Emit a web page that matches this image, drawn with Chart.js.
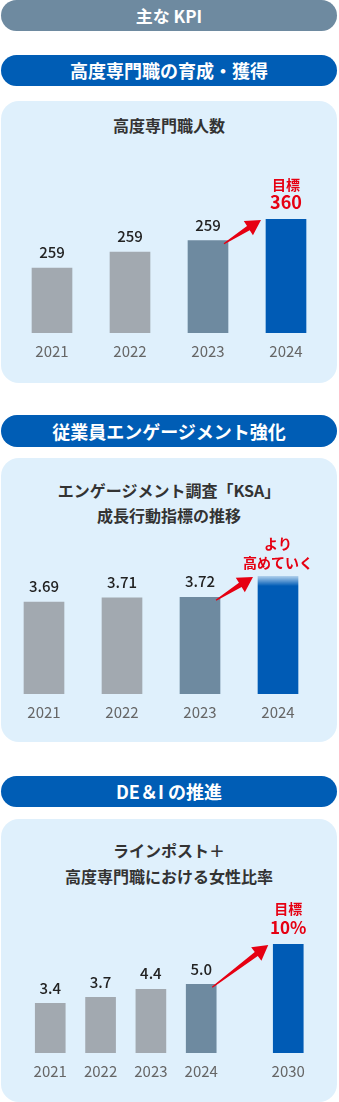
<!DOCTYPE html>
<html lang="ja">
<head>
<meta charset="utf-8">
<title>主なKPI</title>
<script src="https://cdn.jsdelivr.net/npm/chart.js@4.4.1/dist/chart.umd.min.js"></script>
<style>
body { margin: 0; background: #fff; font-family: "Noto Sans CJK JP", "Noto Sans", sans-serif; }
#page { position: relative; width: 339px; height: 1102px; overflow: hidden; }
.pill { position: absolute; left: 1px; width: 336px; border-radius: 16px; color: #fff; font-weight: 700; font-size: 18px; text-align: center; }
.pill.grey { background: #6e8aa0; font-size: 17px; }
.pill.blue { background: #005db5; }
.panel { position: absolute; left: 1px; width: 336px; background: #dff0fc; border-radius: 18px; }
.panel h3 { position: absolute; left: 0; width: 100%; margin: 0; text-align: center; font-size: 16px; font-weight: 700; color: #333; }
.panel canvas { position: absolute; left: 0; }
</style>
</head>
<body>
<div id="page">
  <div class="pill grey" style="top:0;height:31px;line-height:31px;">主な KPI</div>

  <div class="pill blue" style="top:55px;height:31px;line-height:31px;">高度専門職の育成・獲得</div>
  <div class="panel" style="top:101px;height:282px;">
    <h3 style="top:12px;line-height:25px;">高度専門職人数</h3>
    <canvas id="chart_experts" width="336" height="233" style="top:49px;"></canvas>
  </div>

  <div class="pill blue" style="top:415px;height:32px;line-height:32px;">従業員エンゲージメント強化</div>
  <div class="panel" style="top:458px;height:284px;">
    <h3 style="top:20px;line-height:25px;">エンゲージメント調査「KSA」<br>成長行動指標の推移</h3>
    <canvas id="chart_ksa" width="336" height="212" style="top:72px;"></canvas>
  </div>

  <div class="pill blue" style="top:776px;height:31px;line-height:31px;">DE＆I の推進</div>
  <div class="panel" style="top:819px;height:283px;">
    <h3 style="top:18px;line-height:26px;">ラインポスト＋<br>高度専門職における女性比率</h3>
    <canvas id="chart_dei" width="336" height="212" style="top:71px;"></canvas>
  </div>
</div>

<script>
// 高度専門職人数 (bars are drawn as steps, the tallest = 100)
var expertYears = ['2021', '2022', '2023', '2024'];
var expertValues = ['259', '259', '259'];
var expertBars = [57, 71, 81, 100];
var expertNote = ['目標', '360'];

// KSA 成長行動指標
var ksaYears = ['2021', '2022', '2023', '2024'];
var ksaValues = ['3.69', '3.71', '3.72'];
var ksaBars = [78, 81.5, 82, 100];
var ksaNote = ['より', '高めていく'];

// 女性比率 (%); 2030 stands apart after a gap
var deiYears = ['2021', '2022', '2023', '2024', '2030'];
var deiSlots = [0, 1, 2, 3, 4.73];
var deiValues = ['3.4', '3.7', '4.4', '5.0'];
var deiBars = [45.5, 51, 58.5, 63, 100];
var deiNote = ['目標', '10%'];

var GREY = '#a2a9b0', SLATE = '#6e8aa0', BLUE = '#005bb5', RED = '#e60012';
var FONT = '"Noto Sans CJK JP", "Noto Sans", sans-serif';

function drawArrow(ctx, x0, y0, x1, y1) {
    var ang = Math.atan2(y1 - y0, x1 - x0);
    var len = Math.hypot(x1 - x0, y1 - y0);
    var headLen = 15, headHalf = 8.5, shaftHalf = 2.5;
    ctx.save();
    ctx.translate(x0, y0);
    ctx.rotate(ang);
    ctx.beginPath();
    ctx.moveTo(0, -0.6);
    ctx.lineTo(len - headLen, -shaftHalf);
    ctx.lineTo(len - headLen, -headHalf);
    ctx.lineTo(len, 0);
    ctx.lineTo(len - headLen, headHalf);
    ctx.lineTo(len - headLen, shaftHalf);
    ctx.lineTo(0, 0.6);
    ctx.closePath();
    ctx.fillStyle = RED;
    ctx.fill();
    ctx.restore();
}

// value labels, year labels, the red target note and the arrow
var kpiLabels = {
    id: 'kpiLabels',
    afterDatasetsDraw: function (chart) {
        var o = chart.options.plugins.kpiLabels;
        var ctx = chart.ctx;
        var bars = chart.getDatasetMeta(0).data;
        var n = bars.length;
        ctx.save();
        ctx.textAlign = 'center';
        ctx.textBaseline = 'middle';
        for (var i = 0; i < n; ++i) {
            var b = bars[i];
            ctx.fillStyle = '#666';
            ctx.font = '15px ' + FONT;
            ctx.fillText(o.years[i], b.x, b.base + 18);
            if (i < o.values.length) {
                ctx.fillStyle = '#222';
                ctx.font = '500 15px ' + FONT;
                ctx.fillText(o.values[i], b.x, b.y - 15.5);
            }
        }
        var last = bars[n - 1], prev = bars[n - 2];
        ctx.fillStyle = RED;
        for (var j = 0; j < o.note.length; ++j) {
            ctx.font = '700 ' + o.noteSizes[j] + 'px ' + FONT;
            ctx.fillText(o.note[j], last.x, last.y - o.noteOffsets[j]);
        }
        ctx.restore();
        drawArrow(ctx, prev.x + prev.width / 2 - 4, prev.y + 3, last.x - last.width / 2 - 5, last.y + 1);
    }
};

function baseOptions(pad, labelOpts) {
    return {
        responsive: false,
        animation: false,
        layout: { padding: pad },
        plugins: { legend: { display: false }, tooltip: { enabled: false }, kpiLabels: labelOpts },
        scales: {
            x: { display: false, grid: { display: false } },
            y: { display: false, min: 0, max: 100, grid: { display: false } }
        }
    };
}

var experts_options = baseOptions({ left: 12, right: 12, top: 69, bottom: 50 },
    { years: expertYears, values: expertValues, note: expertNote, noteSizes: [14, 18], noteOffsets: [34, 16.5] });
new Chart(document.getElementById('chart_experts').getContext('2d'), {
    type: 'bar',
    data: {
        labels: expertYears,
        datasets: [{ data: expertBars, backgroundColor: [GREY, GREY, SLATE, BLUE], barThickness: 40 }]
    },
    options: experts_options,
    plugins: [kpiLabels]
});

// 2024 bar fades in at the top (still rising)
function ksaColor(c) {
    var colors = [GREY, GREY, SLATE, BLUE];
    if (c.dataIndex !== 3) return colors[c.dataIndex];
    var area = c.chart.chartArea;
    if (!area) return BLUE;
    var g = c.chart.ctx.createLinearGradient(0, area.top, 0, area.top + 10);
    g.addColorStop(0, 'rgba(0,91,181,0.2)');
    g.addColorStop(1, BLUE);
    return g;
}

var ksa_options = baseOptions({ left: 4, right: 20, top: 46, bottom: 48 },
    { years: ksaYears, values: ksaValues, note: ksaNote, noteSizes: [14, 14], noteOffsets: [32.5, 13.5] });
new Chart(document.getElementById('chart_ksa').getContext('2d'), {
    type: 'bar',
    data: {
        labels: ksaYears,
        datasets: [{ data: ksaBars, backgroundColor: ksaColor, barThickness: 40 }]
    },
    options: ksa_options,
    plugins: [kpiLabels]
});

var dei_options = baseOptions({ left: 9, right: 10, top: 54, bottom: 49 },
    { years: deiYears, values: deiValues, note: deiNote, noteSizes: [14, 17], noteOffsets: [35.5, 16.5] });
dei_options.scales.x = { type: 'linear', display: false, offset: false, min: -0.8, max: 5.5, grid: { display: false } };
new Chart(document.getElementById('chart_dei').getContext('2d'), {
    type: 'bar',
    data: {
        datasets: [{
            data: deiSlots.map(function (s, i) { return { x: s, y: deiBars[i] }; }),
            backgroundColor: [GREY, GREY, GREY, SLATE, BLUE],
            barThickness: 30
        }]
    },
    options: dei_options,
    plugins: [kpiLabels]
});
</script>
</body>
</html>
